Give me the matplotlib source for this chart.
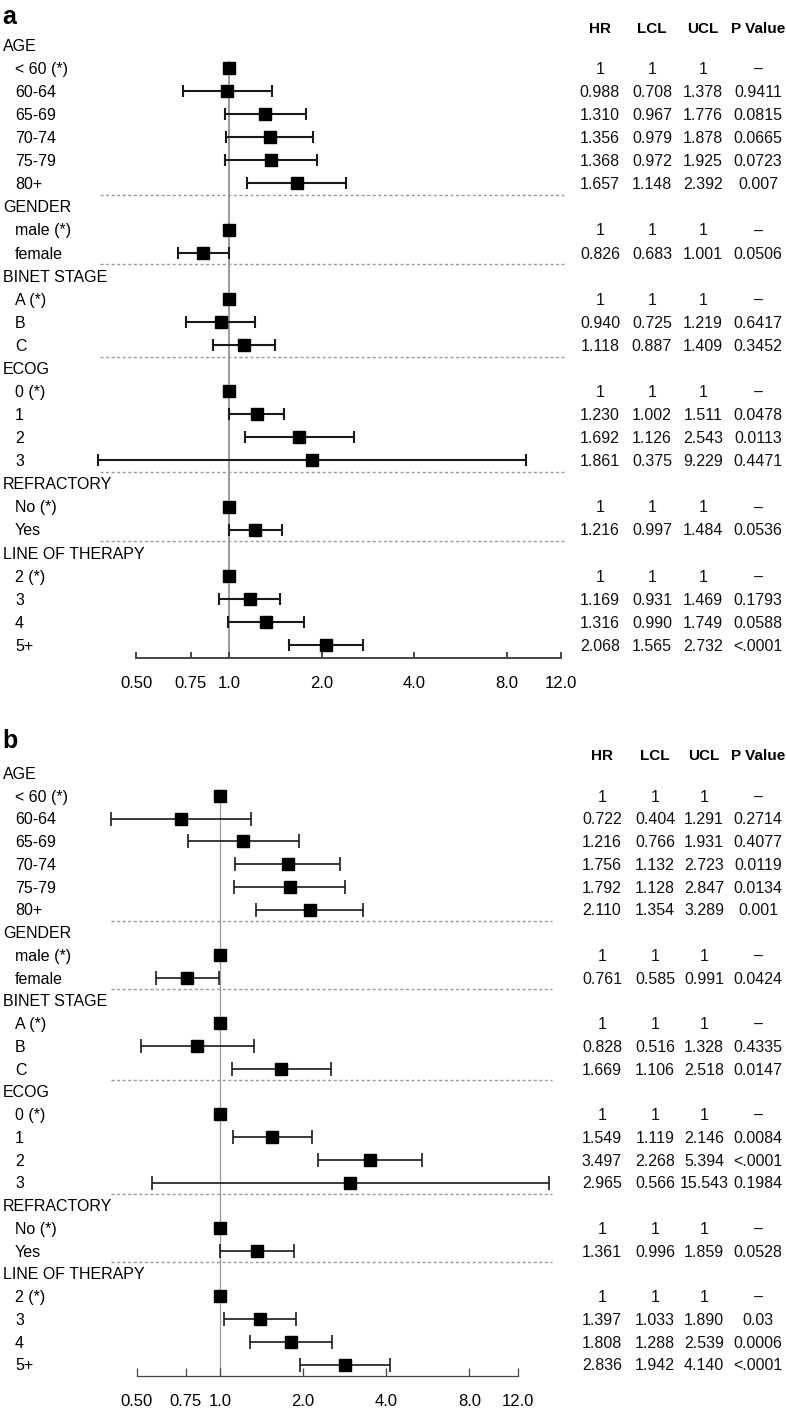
import numpy as np
import matplotlib.pyplot as plt
from matplotlib.ticker import NullLocator

plt.rcParams['font.family'] = ['Liberation Sans', 'DejaVu Sans']

# ---- data ----
groups = ['AGE', 'GENDER', 'BINET STAGE', 'ECOG', 'REFRACTORY', 'LINE OF THERAPY']
items = [['< 60 (*)', '60-64', '65-69', '70-74', '75-79', '80+'],
         ['male (*)', 'female'],
         ['A (*)', 'B', 'C'],
         ['0 (*)', '1', '2', '3'],
         ['No (*)', 'Yes'],
         ['2 (*)', '3', '4', '5+']]

hr_a = [1, 0.988, 1.310, 1.356, 1.368, 1.657, 1, 0.826, 1, 0.940, 1.118,
        1, 1.230, 1.692, 1.861, 1, 1.216, 1, 1.169, 1.316, 2.068]
lcl_a = [1, 0.708, 0.967, 0.979, 0.972, 1.148, 1, 0.683, 1, 0.725, 0.887,
         1, 1.002, 1.126, 0.375, 1, 0.997, 1, 0.931, 0.990, 1.565]
ucl_a = [1, 1.378, 1.776, 1.878, 1.925, 2.392, 1, 1.001, 1, 1.219, 1.409,
         1, 1.511, 2.543, 9.229, 1, 1.484, 1, 1.469, 1.749, 2.732]
p_a = ['–', '0.9411', '0.0815', '0.0665', '0.0723', '0.007', '–', '0.0506',
       '–', '0.6417', '0.3452', '–', '0.0478', '0.0113', '0.4471', '–', '0.0536',
       '–', '0.1793', '0.0588', '<.0001']

hr_b = [1, 0.722, 1.216, 1.756, 1.792, 2.110, 1, 0.761, 1, 0.828, 1.669,
        1, 1.549, 3.497, 2.965, 1, 1.361, 1, 1.397, 1.808, 2.836]
lcl_b = [1, 0.404, 0.766, 1.132, 1.128, 1.354, 1, 0.585, 1, 0.516, 1.106,
         1, 1.119, 2.268, 0.566, 1, 0.996, 1, 1.033, 1.288, 1.942]
ucl_b = [1, 1.291, 1.931, 2.723, 2.847, 3.289, 1, 0.991, 1, 1.328, 2.518,
         1, 2.146, 5.394, 15.543, 1, 1.859, 1, 1.890, 2.539, 4.140]
p_b = ['–', '0.2714', '0.4077', '0.0119', '0.0134', '0.001', '–', '0.0424',
       '–', '0.4335', '0.0147', '–', '0.0084', '<.0001', '0.1984', '–', '0.0528',
       '–', '0.03', '0.0006', '<.0001']

col_names = ['HR', 'LCL', 'UCL', 'P Value']
xticks = [0.5, 0.75, 1, 2, 4, 8, 12]
xticklabels = ['0.50', '0.75', '1.0', '2.0', '4.0', '8.0', '12.0']

W, H = 786, 1411
fig = plt.figure(figsize=(W / 100, H / 100), dpi=100)


def fmt(v, lo, hi):
    if lo == hi == 1:
        return '1'
    return f'{v:.3f}'


def panel(letter, hr, lcl, ucl, pv, top, bottom, row0, step, one_px, oct_px,
          letter_y, head_y, cols, dash, lw, cap, ms, vlw, tick_len):
    ax = fig.add_axes([0, 1 - bottom / H, 1, (bottom - top) / H])
    ax.set_xscale('log')
    ax.set_xlim(2 ** ((0 - one_px) / oct_px), 2 ** ((W - one_px) / oct_px))
    ax.set_ylim((bottom - row0) / step, (top - row0) / step)
    tr = ax.get_yaxis_transform()
    off = 5.8 / step

    ys, seps = [], []
    r = 0
    for g, its in zip(groups, items):
        ax.text(3 / W, r + off, g, transform=tr, fontsize=11.5, va='baseline')
        r += 1
        for it in its:
            ax.text(15 / W, r + off, it, transform=tr, fontsize=11.5, va='baseline')
            ys.append(r)
            r += 1
        seps.append(r - 0.5)
    seps = seps[:-1]
    ys = np.array(ys)

    ax.vlines(1, 0.7, (bottom - row0) / step, color='#9a9a9a', lw=vlw, zorder=1)
    for s in seps:
        ax.axhline(s, xmin=dash[0] / W, xmax=dash[1] / W, color='#9a9a9a',
                   lw=1, ls=(0, (2.2, 1.8)))

    hr, lcl, ucl = map(np.array, (hr, lcl, ucl))
    m = ucl > lcl
    ax.errorbar(hr[m], ys[m], xerr=[hr[m] - lcl[m], ucl[m] - hr[m]], fmt='none',
                ecolor='#1a1a1a', elinewidth=lw, capsize=cap, capthick=lw, zorder=2)
    ax.plot(hr, ys, 's', color='black', ms=ms, zorder=3)

    for i, y in enumerate(ys):
        vals = [fmt(hr[i], lcl[i], ucl[i]), fmt(lcl[i], lcl[i], ucl[i]),
                fmt(ucl[i], lcl[i], ucl[i]), pv[i]]
        for c, v in zip(cols, vals):
            ax.text(c / W, y + off, v, transform=tr, fontsize=11.5,
                    ha='center', va='baseline', color='#111111')
    for c, n in zip(cols, col_names):
        fig.text(c / W, 1 - head_y / H, n, fontsize=11, fontweight='bold',
                 ha='center', va='baseline')
    fig.text(2 / W, 1 - letter_y / H, letter, fontsize=18, fontweight='bold',
             va='baseline')

    for s in ['top', 'left', 'right']:
        ax.spines[s].set_visible(False)
    ax.spines['bottom'].set_bounds(0.5, 12)
    ax.spines['bottom'].set_color('#444444')
    ax.spines['bottom'].set_linewidth(vlw)
    ax.set_yticks([])
    ax.set_xticks(xticks)
    ax.set_xticklabels(xticklabels)
    ax.xaxis.set_minor_locator(NullLocator())
    ax.tick_params(axis='x', direction='in', length=tick_len, width=vlw,
                   color='#444444', labelsize=12, pad=13)
    ax.patch.set_visible(False)
    return ax


panel('a', hr_a, lcl_a, ucl_a, p_a, 0, 658, 45, 23.08, 229, 92.7,
      24, 33, [600, 652, 703, 758], (100, 564), 1.5, 4.6, 9.3, 1.4, 4.5)
panel('b', hr_b, lcl_b, ucl_b, p_b, 705, 1376, 773, 22.75, 220, 83.1,
      748, 760, [602, 655, 704, 758], (111, 552), 1.2, 5.0, 8.4, 0.9, 5.5)

fig.savefig('out.png', dpi=100)
